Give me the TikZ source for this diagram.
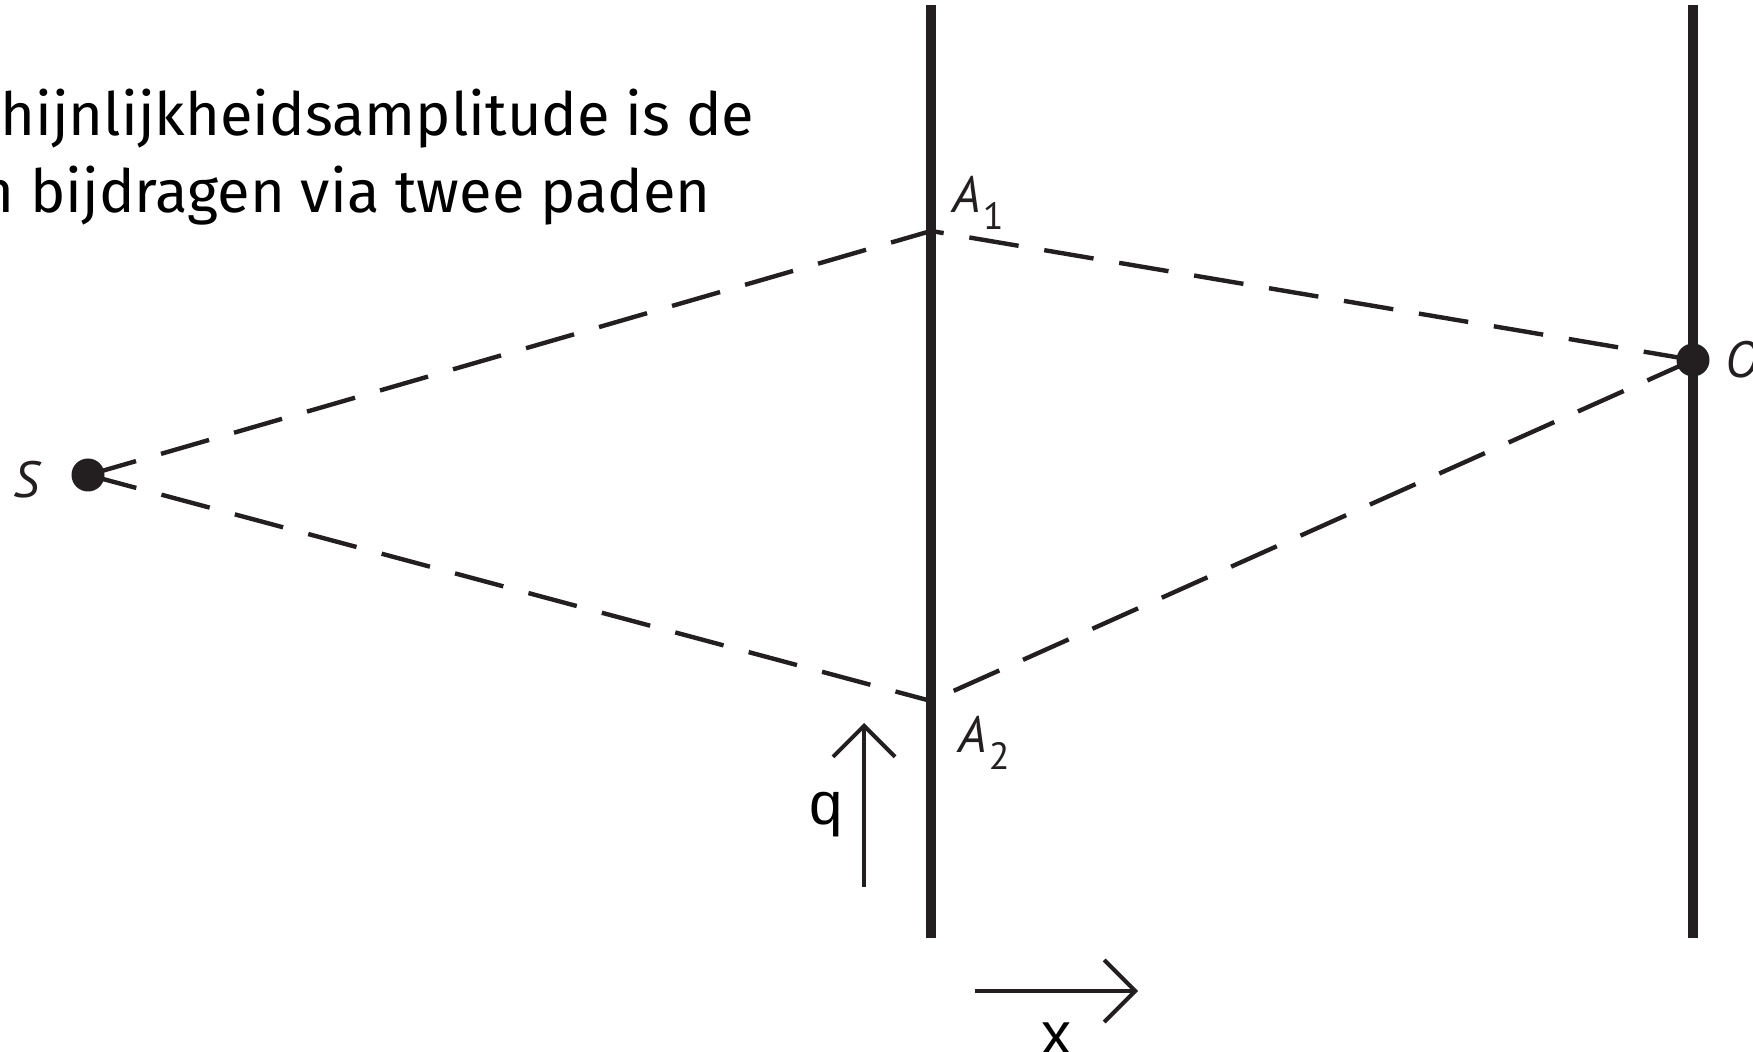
\documentclass[tikz,border=0pt]{standalone}
\usepackage{fontspec}
\setmainfont{Fira Sans}
\newfontfamily\labelfont{PT Sans}
\newfontfamily\axisfont{Liberation Sans}
\usetikzlibrary{arrows.meta}
\definecolor{ink}{HTML}{231F20}
\begin{document}
\begin{tikzpicture}[x=0.5pt,y=-0.5pt,
  wall/.style={line width=4.8pt, draw=ink},
  ray/.style={line width=2.2pt, draw=ink, dash pattern=on 25pt off 13pt},
  dot/.style={circle, fill=ink, inner sep=0pt, minimum size=16.5pt},
  axisarrow/.style={line width=2pt, draw=ink, -{Straight Barb[length=15.5pt,width=31pt]}},
  pointlabel/.style={inner sep=0pt, text=ink, font=\labelfont\fontsize{25.5}{30}\selectfont\itshape},
  axislabel/.style={inner sep=0pt, text=black, font=\axisfont\fontsize{30}{36}\selectfont},
  caption/.style={inner sep=0pt, text=black, font=\fontsize{29.8}{35}\selectfont}]
\useasboundingbox (0,0) rectangle (1753,1052);
\fill[white] (0,0) rectangle (1753,1052);
\begin{scope}
\clip (0,0) rectangle (1753,1052);
% caption (clipped at the left edge)
\node[caption, anchor=base west] (cap1) at (0,136) {hijnlijkheidsamplitude is de};
\node[caption, anchor=base east] (cap2) at (711,213) {n bijdragen via twee paden};
% walls
\coordinate (w1top) at (931,5);
\coordinate (w1bot) at (931,938);
\coordinate (w2top) at (1693,5);
\coordinate (w2bot) at (1693,938);
\draw[wall] (w1top) -- (w1bot);
\draw[wall] (w2top) -- (w2bot);
% points
\coordinate (A1) at (931,231);
\coordinate (A2) at (931,701);
\node[dot] (S) at (88,475) {};
\node[dot] (O) at (1693,360) {};
% paths
\draw[ray] (S.center) -- (A1);
\draw[ray] (S.center) -- (A2);
\draw[ray] (O.center) -- (A1);
\draw[ray] (O.center) -- (A2);
% labels
\node[pointlabel, anchor=base west] (lS) at (13,498) {S};
\node[pointlabel, anchor=base west] (lA1) at (952,213) {A\kern1pt\raisebox{-8.5pt}{\upshape\fontsize{19}{19}\selectfont 1}};
\node[pointlabel, anchor=base west] (lA2) at (958,753) {A\kern1pt\raisebox{-8.5pt}{\upshape\fontsize{19}{19}\selectfont 2}};
\node[pointlabel, anchor=base west] (lO) at (1725,378) {O};
% axes
\coordinate (qstart) at (864,887);
\coordinate (qend) at (864,723);
\draw[axisarrow] (qstart) -- (qend);
\node[axislabel, anchor=base] (lq) at (826,825) {q};
\coordinate (xstart) at (975,991);
\coordinate (xend) at (1138,991);
\draw[axisarrow] (xstart) -- (xend);
\node[axislabel, anchor=base] (lx) at (1056,1055) {x};
\end{scope}
\end{tikzpicture}
\end{document}
